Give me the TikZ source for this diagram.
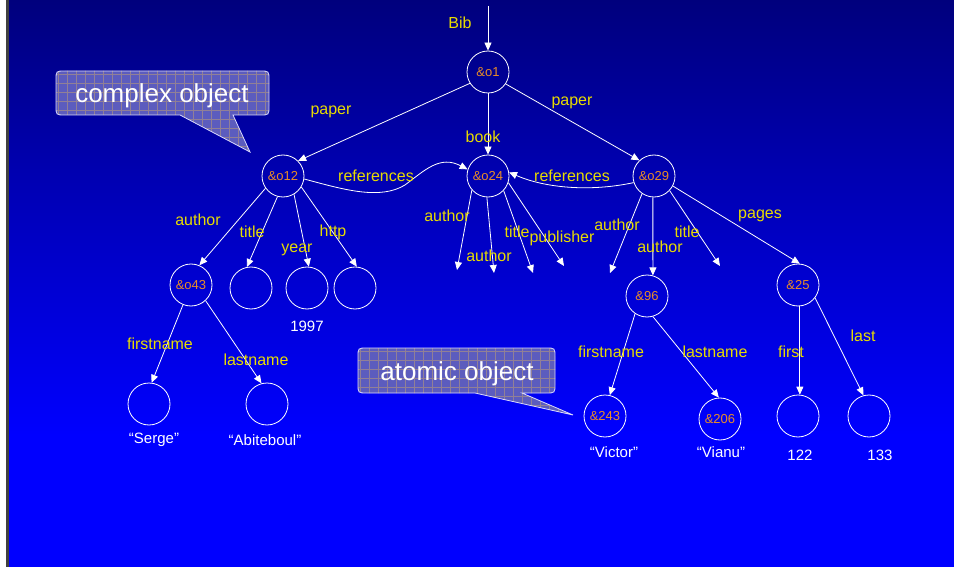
\documentclass[tikz,border=0pt]{standalone}
\usepackage{fontspec}
\setmainfont{Liberation Sans}
\usetikzlibrary{arrows.meta}
\definecolor{lab}{RGB}{232,220,0}
\definecolor{ntext}{RGB}{232,140,40}
\definecolor{bgtop}{RGB}{0,0,125}
\definecolor{bgbot}{RGB}{0,0,255}
\definecolor{callfill}{RGB}{92,92,190}
\definecolor{callgrid}{RGB}{145,128,150}
\begin{document}
\begin{tikzpicture}[x=1pt,y=-1pt,
  obj/.style={circle,draw=white,line width=0.8pt,minimum size=42pt,inner sep=0pt,font=\fontsize{13}{15}\selectfont,text=ntext},
  lbl/.style={inner sep=0pt,font=\fontsize{16}{18}\selectfont,text=lab},
  val/.style={inner sep=0pt,font=\fontsize{15}{17}\selectfont,text=white},
  edge/.style={draw=white,line width=0.8pt,-{Triangle[length=8pt,width=7pt]}},
  callout/.style={draw=white!85!blue,line width=0.8pt,fill=callfill},
  calltext/.style={inner sep=0pt,font=\fontsize{26}{30}\selectfont,text=white,anchor=base}
]
\useasboundingbox (0,0) rectangle (954,567);
% background
\fill[white] (0,0) rectangle (954,567);
\fill[black!75] (6,0) rectangle (9,567);
\shade[top color=bgtop,bottom color=bgbot] (9,0) rectangle (954,435);
\fill[bgbot] (9,434.5) rectangle (954,567);

% callout: complex object
\draw[callout,path picture={
    \foreach \gx in {58,67,...,275} \draw[callgrid,line width=0.4pt] (\gx,60) -- (\gx,160);
    \foreach \gy in {74,83,...,160} \draw[callgrid,line width=0.4pt] (50,\gy) -- (280,\gy);
  }]
  (56,80) .. controls (56,71) .. (65,71) -- (260,71) .. controls (269,71) .. (269,80)
  -- (269,106) .. controls (269,115) .. (260,115) -- (233,115) -- (250,152) -- (180,115)
  -- (65,115) .. controls (56,115) .. (56,106) -- cycle;
\node[calltext] (cplx) at (162,103) {complex object};

% callout: atomic object
\draw[callout,path picture={
    \foreach \gx in {360,369,...,560} \draw[callgrid,line width=0.4pt] (\gx,340) -- (\gx,420);
    \foreach \gy in {351,360,...,420} \draw[callgrid,line width=0.4pt] (350,\gy) -- (580,\gy);
  }]
  (358,357) .. controls (358,348) .. (367,348) -- (546,348) .. controls (555,348) .. (555,357)
  -- (555,384) .. controls (555,393) .. (546,393) -- (522,393) -- (573,415) -- (475,393)
  -- (367,393) .. controls (358,393) .. (358,384) -- cycle;
\node[calltext] (atom) at (457,380) {atomic object};

% object nodes
\node[obj] (o1) at (488,72) {\&o1};
\node[obj] (o12) at (283,176) {\&o12};
\node[obj] (o24) at (488,176) {\&o24};
\node[obj] (o29) at (654,176) {\&o29};
\node[obj] (o43) at (191,285) {\&o43};
\node[obj] (t12) at (251,288) {};
\node[obj] (y12) at (307,288) {};
\node[obj] (h12) at (355,288) {};
\node[obj] (serge) at (149,404) {};
\node[obj] (abit) at (267,404) {};
\node[obj] (o96) at (647,296) {\&96};
\node[obj] (o25) at (798,285) {\&25};
\node[obj] (o243) at (605,416) {\&243};
\node[obj] (o206) at (720,419) {\&206};
\node[obj] (v122) at (798,416) {};
\node[obj] (v133) at (869,416) {};

% free ends
\coordinate (bibtop) at (488,6);
\coordinate (f1) at (457,270);
\coordinate (f2) at (494,273);
\coordinate (f3) at (533,273);
\coordinate (f4) at (564,266);
\coordinate (g1) at (610,273);
\coordinate (g2) at (720,266);

% edges
\draw[edge] (bibtop) -- (o1);
\draw[edge] (o1.212) -- (o12.45);
\draw[edge] (o1) -- (o24);
\draw[edge] (o1.-34) -- (o29.133);
\draw[edge] (o12.-8) .. controls (345,190) and (380,200) .. (405,185) .. controls (425,170) and (440,155) .. (o24.162);
\draw[edge] (o29.198) .. controls (590,192) and (545,188) .. (o24.10);
\draw[edge] (o24.221) -- (f1);
\draw[edge] (o24.267) -- (f2);
\draw[edge] (o24.317) -- (f3);
\draw[edge] (o24.342) -- (f4);
\draw[edge] (o29.236) -- (g1);
\draw[edge] (o29.-93) -- (o96.74);
\draw[edge] (o29.-43) -- (g2);
\draw[edge] (o29.-28) -- (o25.85);
\draw[edge] (o12.215) -- (o43.67);
\draw[edge] (o12.255) -- (t12.101);
\draw[edge] (o12.-59) -- (y12.85);
\draw[edge] (o12.-31) -- (h12.85);
\draw[edge] (o43.248) -- (serge.83);
\draw[edge] (o43.-47) -- (abit.105);
\draw[edge] (o96.236) -- (o243.77);
\draw[edge] (o96.-74) -- (o206.93);
\draw[edge] (o25.-85) -- (v122.85);
\draw[edge] (o25.-37) -- (v133.105);

% edge labels
\node[lbl] (lBib) at (460,23) {Bib};
\node[lbl] (lp1) at (331,112) {paper};
\node[lbl] (lp2) at (572,103) {paper};
\node[lbl] (lbook) at (483,137) {book};
\node[lbl] (lr1) at (376,176) {references};
\node[lbl] (lr2) at (572,176) {references};
\node[lbl] (la1) at (198,220) {author};
\node[lbl] (lt1) at (252,232) {title};
\node[lbl] (ly1) at (297,250) {year};
\node[lbl] (lh1) at (333,232) {http};
\node[lbl] (la2) at (447,216) {author};
\node[lbl] (la3) at (489,256) {author};
\node[lbl] (lt2) at (517,232) {title};
\node[lbl] (lpub) at (562,238) {publisher};
\node[lbl] (la4) at (617,225) {author};
\node[lbl] (la5) at (660,247) {author};
\node[lbl] (lt3) at (687,232) {title};
\node[lbl] (lpg) at (760,216) {pages};
\node[lbl] (lf1) at (160,344) {firstname};
\node[lbl] (ll1) at (256,360) {lastname};
\node[lbl] (lf2) at (611,352) {firstname};
\node[lbl] (ll2) at (715,352) {lastname};
\node[lbl] (lfirst) at (791,352) {first};
\node[lbl] (llast) at (863,336) {last};

% atomic values
\node[val] (t1997) at (307,326) {1997};
\node[val] (tserge) at (154,440) {“Serge”};
\node[val] (tabit) at (265,440) {“Abiteboul”};
\node[val] (tvictor) at (614,452) {“Victor”};
\node[val] (tvianu) at (721,452) {“Vianu”};
\node[val] (t122) at (800,455) {122};
\node[val] (t133) at (880,455) {133};
\end{tikzpicture}
\end{document}
